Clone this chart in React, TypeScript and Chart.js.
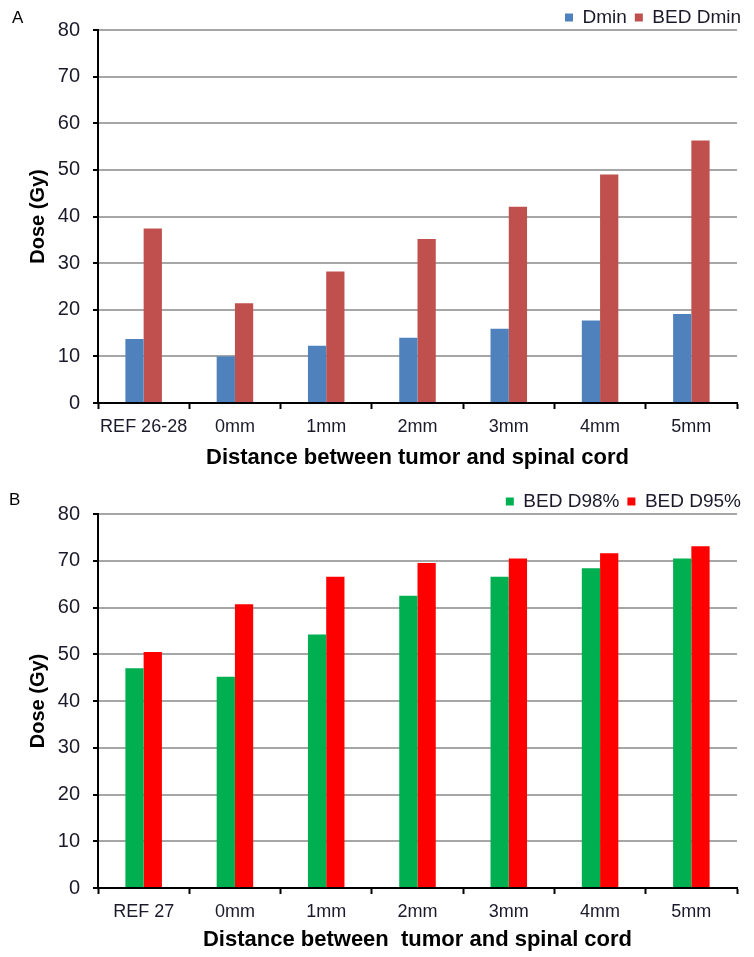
import React, { useEffect, useRef } from 'react';
import { Chart, registerables } from 'chart.js';

Chart.register(...registerables);

const categoriesA = ['REF 26-28', '0mm', '1mm', '2mm', '3mm', '4mm', '5mm'];
const dminValues = [13.7, 10.0, 12.3, 14.0, 15.9, 17.7, 19.1];
const bedDminValues = [37.4, 21.4, 28.2, 35.2, 42.1, 49.0, 56.3];

const categoriesB = ['REF 27', '0mm', '1mm', '2mm', '3mm', '4mm', '5mm'];
const bedD98Values = [47.0, 45.2, 54.2, 62.5, 66.6, 68.4, 70.5];
const bedD95Values = [50.5, 60.7, 66.6, 69.5, 70.5, 71.6, 73.1];

const yMin = 0;
const yMax = 80;
const yStep = 10;

const xTitleA = 'Distance between tumor and spinal cord';
const xTitleB = 'Distance between  tumor and spinal cord';
const yTitle = 'Dose (Gy)';

const FONT = 'Arial, "Liberation Sans", sans-serif';
const W = 754;
const TOP_A = 0;
const H_A = 478;
const TOP_B = 484;
const H_B = 957 - TOP_B;

const legendShift = {
  id: 'legendShift',
  afterLayout(chart: any, _args: any, opts: any) {
    const lg = chart.legend;
    if (!lg) return;
    const dx = opts && opts.dx ? opts.dx : 0;
    lg.left += dx;
    lg.right += dx;
  },
};

function makeConfig(
  labels: string[],
  names: string[],
  series: number[][],
  colors: string[],
  xTitle: string,
  height: number,
  areaBottom: number,
  padBottom: number
): any {
  const padLeft = 26;
  const padRight = 17;
  const areaTop = 30;
  const legendPad = 8;
  return {
    type: 'bar',
    data: {
      labels,
      datasets: series.map((d, i) => ({
        label: names[i],
        data: d,
        backgroundColor: colors[i],
        borderWidth: 0,
        categoryPercentage: 0.4,
        barPercentage: 1.0,
      })),
    },
    plugins: [legendShift],
    options: {
      responsive: false,
      animation: false,
      maintainAspectRatio: false,
      layout: { padding: { left: padLeft, right: padRight, top: 0, bottom: padBottom } },
      plugins: {
        tooltip: { enabled: false },
        legendShift: { dx: 12 },
        legend: {
          display: true,
          position: 'top',
          align: 'end',
          maxHeight: areaTop,
          labels: {
            boxWidth: 8,
            boxHeight: 8,
            padding: legendPad,
            color: '#1a1a2a',
            font: { family: FONT, size: 19 },
          },
        },
      },
      scales: {
        x: {
          offset: true,
          grid: {
            offset: true,
            drawOnChartArea: false,
            drawTicks: true,
            tickLength: 6,
            tickColor: '#000',
            tickWidth: 2,
          },
          border: { display: true, color: '#000', width: 2 },
          ticks: {
            color: '#1a1a2a',
            font: { family: FONT, size: 18 },
            padding: 7,
            maxRotation: 0,
            autoSkip: false,
          },
          title: {
            display: true,
            text: xTitle,
            color: '#000',
            font: { family: FONT, size: 22, weight: 'bold' },
            padding: { top: 4, bottom: 0 },
          },
          afterFit: (s: any) => {
            s.height = height - areaBottom - padBottom;
          },
        },
        y: {
          min: yMin,
          max: yMax,
          ticks: {
            stepSize: yStep,
            color: '#1a1a2a',
            font: { family: FONT, size: 20 },
            padding: 13,
          },
          grid: {
            color: '#a6a6a6',
            lineWidth: 2,
            drawTicks: true,
            tickLength: 5,
            tickColor: '#000',
            tickWidth: 2,
          },
          border: { display: true, color: '#000', width: 2 },
          title: {
            display: true,
            text: yTitle,
            color: '#000',
            font: { family: FONT, size: 20, weight: 'bold' },
            padding: { top: 0, bottom: 4 },
          },
          afterFit: (s: any) => {
            s.width = 98 - padLeft;
          },
        },
      },
    },
  };
}

function BarPanel(props: {
  labels: string[];
  names: string[];
  series: number[][];
  colors: string[];
  xTitle: string;
  height: number;
  areaBottom: number;
  padBottom: number;
}) {
  const ref = useRef<HTMLCanvasElement | null>(null);
  useEffect(() => {
    if (!ref.current) return;
    const chart = new Chart(
      ref.current,
      makeConfig(
        props.labels,
        props.names,
        props.series,
        props.colors,
        props.xTitle,
        props.height,
        props.areaBottom,
        props.padBottom
      )
    );
    return () => chart.destroy();
  }, []);
  return (
    <canvas
      ref={ref}
      width={W}
      height={props.height}
      style={{ display: 'block', width: W, height: props.height }}
    />
  );
}

export default function App() {
  const letter: React.CSSProperties = {
    position: 'absolute',
    fontFamily: FONT,
    fontSize: 17,
    color: '#000',
    lineHeight: '20px',
  };
  return (
    <div style={{ position: 'absolute', left: 0, top: 0, width: W, height: 957, background: '#fff' }}>
      <div style={{ position: 'absolute', left: 0, top: TOP_A, width: W, height: H_A }}>
        <BarPanel
          labels={categoriesA}
          names={['Dmin', 'BED Dmin']}
          series={[dminValues, bedDminValues]}
          colors={['#4F81BD', '#C0504D']}
          xTitle={xTitleA}
          height={H_A}
          areaBottom={403 - TOP_A}
          padBottom={7}
        />
      </div>
      <div style={{ ...letter, left: 12, top: 8 }}>A</div>
      <div style={{ position: 'absolute', left: 0, top: TOP_B, width: W, height: H_B }}>
        <BarPanel
          labels={categoriesB}
          names={['BED D98%', 'BED D95%']}
          series={[bedD98Values, bedD95Values]}
          colors={['#00B050', '#FF0000']}
          xTitle={xTitleB}
          height={H_B}
          areaBottom={888 - TOP_B}
          padBottom={4}
        />
      </div>
      <div style={{ ...letter, left: 9, top: 490 }}>B</div>
    </div>
  );
}
